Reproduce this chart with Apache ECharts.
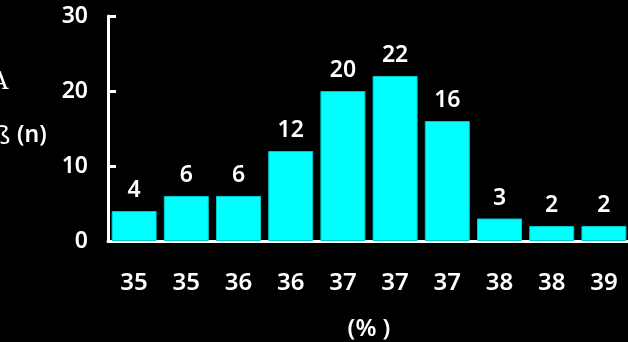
<!DOCTYPE html>
<html>
<head>
<meta charset="utf-8">
<script src="https://cdn.jsdelivr.net/npm/echarts@6/dist/echarts.min.js"></script>
<style>
  html, body { margin: 0; padding: 0; background: #000; }
  #chart { width: 628px; height: 342px; }
</style>
</head>
<body>
<div id="chart"></div>
<script>
// bins (%) and counts (n)
const categories = ['35', '35', '36', '36', '37', '37', '37', '38', '38', '39'];
const counts = [4, 6, 6, 12, 20, 22, 16, 3, 2, 2];
const yTicks = [0, 10, 20, 30];

const font = 'Noto Sans';
const weight = 600;

const chart = echarts.init(document.getElementById('chart'), null, { renderer: 'canvas' });

const option = {
	backgroundColor: '#000',
	animation: false,
	grid: {
		left: 108,
		right: -2,
		top: 16,
		bottom: 101,
		containLabel: false,
		outerBoundsMode: 'none'
	},
	xAxis: {
		type: 'category',
		data: categories,
		name: '(% )',
		nameLocation: 'middle',
		nameGap: 76,
		nameTextStyle: { color: '#fff', fontFamily: font, fontWeight: weight, fontSize: 24 },
		axisLine: { lineStyle: { color: '#fff', width: 3 } },
		axisTick: { inside: true, length: 5, lineStyle: { color: '#fff', width: 3 } },
		axisLabel: { color: '#fff', fontFamily: font, fontWeight: weight, fontSize: 24, margin: 30 }
	},
	yAxis: {
		type: 'value',
		min: yTicks[0],
		max: yTicks[yTicks.length - 1],
		interval: 10,
		splitLine: { show: false },
		axisLine: { show: true, lineStyle: { color: '#fff', width: 3 } },
		axisTick: { show: true, inside: true, length: 8, lineStyle: { color: '#fff', width: 3 } },
		axisLabel: {
			color: '#fff', fontFamily: font, fontWeight: weight, fontSize: 23,
			margin: 20, padding: [10, 0, 0, 0]
		}
	},
	graphic: [
		{
			type: 'text', left: -9, top: 71,
			style: { text: 'A', fill: '#fff', font: 'normal 24px "DejaVu Serif"' }
		},
		{
			type: 'text', left: -6, top: 124,
			style: { text: 'ß', fill: '#fff', font: 'normal 26px "Noto Sans"' }
		},
		{
			type: 'text', left: 17, top: 124,
			style: { text: '(n)', fill: '#fff', font: weight + ' 23px "Noto Sans"' }
		}
	],
	series: [{
		type: 'bar',
		data: counts,
		barWidth: 45,
		itemStyle: { color: '#00ffff', borderColor: '#00c8c8', borderWidth: 1 },
		label: {
			show: true,
			position: 'top',
			distance: 9,
			color: '#fff',
			fontFamily: font,
			fontWeight: weight,
			fontSize: 23
		}
	}]
};

chart.setOption(option);
</script>
</body>
</html>
